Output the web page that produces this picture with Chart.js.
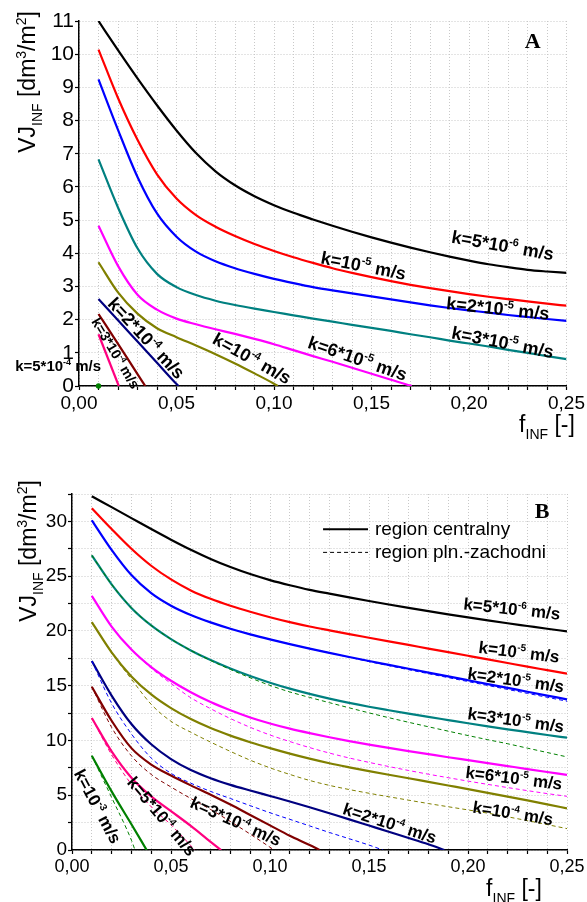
<!DOCTYPE html>
<html>
<head>
<meta charset="utf-8">
<script src="https://cdn.jsdelivr.net/npm/chart.js@4.4.1/dist/chart.umd.min.js"></script>
<style>
  body { margin: 0; background: #fff; }
  .panel { position: absolute; left: 0; width: 587px; }
  #panelA { top: 0; height: 450px; }
  #panelB { top: 460px; height: 442px; }
</style>
</head>
<body>
<div class="panel" id="panelA"><canvas id="chartA" width="587" height="450"></canvas></div>
<div class="panel" id="panelB"><canvas id="chartB" width="587" height="442"></canvas></div>
<script>
// f_INF values shared by the full-length curves
const fFull = [0.01, 0.02, 0.03, 0.04, 0.05, 0.06, 0.07, 0.08, 0.09, 0.10, 0.11, 0.12, 0.13,
               0.14, 0.15, 0.16, 0.17, 0.18, 0.19, 0.20, 0.21, 0.22, 0.23, 0.24, 0.25];

// ---- panel A ----
const aK5e6 = [11.0, 10.12, 9.27, 8.46, 7.7, 7.02, 6.47, 6.05, 5.72, 5.45, 5.22, 5.02, 4.83, 4.65, 4.48, 4.32, 4.17, 4.03, 3.9, 3.78, 3.67, 3.58, 3.5, 3.45, 3.41];
const aK1e5 = [10.14, 8.68, 7.42, 6.38, 5.65, 5.15, 4.8, 4.52, 4.28, 4.07, 3.88, 3.71, 3.55, 3.41, 3.28, 3.16, 3.05, 2.95, 2.86, 2.77, 2.69, 2.62, 2.55, 2.48, 2.42];
const aK2e5 = [9.24, 7.72, 6.3, 5.2, 4.5, 4.05, 3.76, 3.55, 3.38, 3.23, 3.1, 2.98, 2.88, 2.79, 2.7, 2.61, 2.52, 2.43, 2.35, 2.28, 2.21, 2.14, 2.08, 2.02, 1.96];
const aK3e5 = [6.83, 5.38, 4.15, 3.38, 2.98, 2.74, 2.57, 2.44, 2.33, 2.23, 2.13, 2.03, 1.94, 1.84, 1.75, 1.66, 1.56, 1.47, 1.37, 1.28, 1.19, 1.09, 1.0, 0.9, 0.81];
const fA6e5 = [0.01, 0.02, 0.03, 0.04, 0.05, 0.06, 0.07, 0.08, 0.09, 0.10, 0.11, 0.12, 0.13, 0.14, 0.15, 0.16, 0.17, 0.1706];
const aK6e5 = [4.83, 3.62, 2.75, 2.3, 2.03, 1.86, 1.71, 1.57, 1.42, 1.26, 1.08, 0.9, 0.73, 0.55, 0.37, 0.19, 0.01, 0];
const fA1e4 = [0.01, 0.02, 0.03, 0.04, 0.05, 0.06, 0.07, 0.08, 0.09, 0.10, 0.102];
const aK1e4 = [3.73, 2.82, 2.18, 1.74, 1.47, 1.22, 0.96, 0.68, 0.38, 0.07, 0];
const fA2e4 = [0.01, 0.02, 0.03, 0.04, 0.05, 0.051];
const aK2e4 = [2.62, 1.98, 1.34, 0.7, 0.06, 0];
const fA3e4 = [0.01, 0.02, 0.03, 0.034];
const aK3e4 = [2.17, 1.27, 0.36, 0];
const fA5e4 = [0.01, 0.0204];
const aK5e4 = [1.56, 0];
const fA1e3 = [0.01];
const aK1e3 = [0];

// ---- panel B, region centralny (solid) ----
const bK5e6 = [32.3, 31.3, 30.3, 29.3, 28.33, 27.41, 26.57, 25.83, 25.19, 24.64, 24.17, 23.75, 23.4, 23.06, 22.73, 22.41, 22.1, 21.8, 21.51, 21.23, 20.96, 20.7, 20.45, 20.2, 19.96];
const bK1e5 = [31.2, 29.3, 27.5, 25.95, 24.7, 23.7, 22.93, 22.3, 21.75, 21.25, 20.8, 20.4, 20.05, 19.71, 19.38, 19.05, 18.72, 18.39, 18.06, 17.73, 17.4, 17.07, 16.74, 16.42, 16.1];
const bK2e5 = [30.1, 27.4, 25.1, 23.45, 22.3, 21.45, 20.78, 20.2, 19.69, 19.23, 18.8, 18.39, 18.0, 17.62, 17.25, 16.9, 16.55, 16.2, 15.85, 15.5, 15.15, 14.8, 14.45, 14.1, 13.75];
const bK3e5 = [26.9, 24.25, 22.1, 20.5, 19.25, 18.22, 17.34, 16.57, 15.88, 15.27, 14.73, 14.25, 13.82, 13.43, 13.08, 12.76, 12.45, 12.15, 11.86, 11.57, 11.29, 11.02, 10.76, 10.5, 10.25];
const bK6e5 = [23.2, 20.4, 18.3, 16.7, 15.45, 14.4, 13.5, 12.75, 12.1, 11.55, 11.08, 10.67, 10.29, 9.94, 9.62, 9.32, 9.03, 8.75, 8.47, 8.2, 7.93, 7.66, 7.39, 7.12, 6.85];
const bK1e4 = [20.8, 18.05, 15.85, 14.2, 12.95, 11.95, 11.13, 10.44, 9.84, 9.3, 8.8, 8.34, 7.92, 7.55, 7.2, 6.87, 6.55, 6.22, 5.89, 5.56, 5.22, 4.88, 4.53, 4.17, 3.8];
const fB2e4 = [0.01, 0.02, 0.03, 0.04, 0.05, 0.06, 0.07, 0.08, 0.09, 0.10, 0.11, 0.12, 0.13, 0.14, 0.15, 0.16, 0.17, 0.18, 0.188];
const bK2e4 = [17.25, 14.1, 11.5, 9.65, 8.3, 7.3, 6.55, 5.95, 5.43, 4.93, 4.43, 3.9, 3.35, 2.8, 2.23, 1.66, 1.1, 0.52, 0];
const fB3e4 = [0.01, 0.02, 0.03, 0.04, 0.05, 0.06, 0.07, 0.08, 0.09, 0.10, 0.11, 0.12, 0.125];
const bK3e4 = [14.9, 11.8, 9.3, 7.8, 6.8, 5.9, 5.05, 4.15, 3.2, 2.25, 1.3, 0.45, 0];
const fB5e4 = [0.01, 0.02, 0.03, 0.04, 0.05, 0.06, 0.07, 0.0753];
const bK5e4 = [12.05, 9.0, 6.6, 4.9, 3.55, 2.2, 0.75, 0];
const fB1e3 = [0.01, 0.02, 0.03, 0.0377];
const bK1e3 = [8.6, 5.35, 2.35, 0];

// ---- panel B, region pln.-zachodni (dashed) ----
const wK2e5 = [30.1, 27.4, 25.1, 23.45, 22.3, 21.45, 20.78, 20.2, 19.69, 19.23, 18.8, 18.39, 18.0, 17.6, 17.2, 16.83, 16.46, 16.1, 15.74, 15.38, 15.02, 14.66, 14.3, 13.94, 13.58];
const wK3e5 = [26.9, 24.25, 22.1, 20.5, 19.25, 18.22, 17.3, 16.48, 15.72, 15.03, 14.43, 13.93, 13.45, 12.98, 12.52, 12.08, 11.66, 11.25, 10.85, 10.45, 10.07, 9.7, 9.3, 8.9, 8.5];
const wK6e5 = [23.2, 20.4, 18.3, 16.6, 15.2, 13.9, 12.9, 12.0, 11.2, 10.5, 9.9, 9.35, 8.85, 8.4, 8.0, 7.62, 7.26, 6.92, 6.6, 6.29, 5.99, 5.7, 5.42, 5.15, 4.9];
const wK1e4 = [20.8, 18.0, 15.6, 13.3, 11.75, 10.75, 9.85, 9.0, 8.2, 7.5, 6.9, 6.35, 5.9, 5.52, 5.18, 4.86, 4.55, 4.24, 3.95, 3.66, 3.36, 3.03, 2.68, 2.32, 1.95];
const fW2e4 = [0.01, 0.02, 0.03, 0.04, 0.05, 0.06, 0.07, 0.08, 0.09, 0.10, 0.11, 0.12, 0.13, 0.14, 0.15, 0.157];
const wK2e4 = [17.25, 13.4, 10.6, 8.4, 7.0, 6.1, 5.35, 4.7, 4.05, 3.4, 2.8, 2.2, 1.6, 1.03, 0.45, 0];
const fW3e4 = [0.01, 0.02, 0.03, 0.04, 0.05, 0.06, 0.07, 0.08, 0.09, 0.10, 0.102];
const wK3e4 = [14.9, 11.2, 8.6, 6.9, 5.75, 4.7, 3.7, 2.6, 1.45, 0.25, 0];
const fW5e4 = [0.01, 0.02, 0.03, 0.04, 0.05, 0.06, 0.062];
const wK5e4 = [12.05, 8.7, 6.0, 3.95, 2.3, 0.4, 0];
const fW1e3 = [0.01, 0.02, 0.03, 0.0318];
const wK1e3 = [8.6, 4.8, 0.9, 0];

const colors = {
  k5e6: '#000000', k1e5: '#ff0000', k2e5: '#0000ff', k3e5: '#008080', k6e5: '#ff00ff',
  k1e4: '#808000', k2e4: '#000080', k3e4: '#800000', k5e4: '#ff0080', k1e3: '#008000'
};

const SANS = '"Liberation Sans", Arial, sans-serif';
const SERIF = '"Liberation Serif", "Times New Roman", serif';

function curve(fs, vs, color, dashed) {
  return {
    data: fs.map((f, i) => ({ x: f, y: vs[i] })),
    borderColor: color,
    backgroundColor: color,
    borderWidth: dashed ? 1 : 2.2,
    borderDash: dashed ? [4, 3] : [],
    pointRadius: 0,
    cubicInterpolationMode: 'monotone',
    fill: false
  };
}

// text with superscript (1) and subscript (-1) pieces, centred on (x, y)
function richText(ctx, parts, x, y, deg, size, weight, family) {
  ctx.save();
  ctx.translate(x, y);
  ctx.rotate(deg * Math.PI / 180);
  ctx.fillStyle = '#000';
  ctx.textBaseline = 'alphabetic';
  const small = Math.round(size * 0.6);
  const widths = parts.map(([t, m]) => {
    ctx.font = weight + ' ' + (m ? small : size) + 'px ' + family;
    return ctx.measureText(t).width;
  });
  let cx = -widths.reduce((a, b) => a + b, 0) / 2;
  parts.forEach(([t, m], i) => {
    ctx.font = weight + ' ' + (m ? small : size) + 'px ' + family;
    const dy = m === 1 ? -size * 0.42 : (m === -1 ? size * 0.3 : 0);
    ctx.fillText(t, cx, size * 0.36 + dy);
    cx += widths[i];
  });
  ctx.restore();
}

function kText(base, exp) {
  return [['k=' + base, 0], [exp, 1], [' m/s', 0]];
}

const yTitle = [['VJ', 0], ['INF', -1], [' [dm', 0], ['3', 1], ['/m', 0], ['2', 1], [']', 0]];
const xTitle = [['f', 0], ['INF', -1], [' [-]', 0]];

const labelsA = [
  { f: 0.2173, v: 4.25, rot: 10, parts: kText('5*10', '-6'), size: 18 },
  { f: 0.1459, v: 3.64, rot: 11, parts: kText('10', '-5'), size: 18 },
  { f: 0.2148, v: 2.35, rot: 6, parts: kText('2*10', '-5'), size: 18 },
  { f: 0.2173, v: 1.33, rot: 11, parts: kText('3*10', '-5'), size: 18 },
  { f: 0.1429, v: 0.84, rot: 19, parts: kText('6*10', '-5'), size: 18 },
  { f: 0.0888, v: 0.84, rot: 29, parts: kText('10', '-4'), size: 18 },
  { f: 0.0347, v: 1.45, rot: 47, parts: kText('2*10', '-4'), size: 18 },
  { f: 0.0189, v: 0.99, rot: 59, parts: kText('3*10', '-4'), size: 14 },
  { f: -0.0107, v: 0.6, rot: 0, parts: kText('5*10', '-4'), size: 15 }
];

const labelsB = [
  { f: 0.2222, v: 22.05, rot: 6, parts: kText('5*10', '-6'), size: 17 },
  { f: 0.2258, v: 18.1, rot: 7, parts: kText('10', '-5'), size: 17 },
  { f: 0.2242, v: 15.55, rot: 8, parts: kText('2*10', '-5'), size: 17 },
  { f: 0.2242, v: 11.9, rot: 8, parts: kText('3*10', '-5'), size: 17 },
  { f: 0.2232, v: 6.6, rot: 7, parts: kText('6*10', '-5'), size: 17 },
  { f: 0.2227, v: 3.4, rot: 9, parts: kText('10', '-4'), size: 17 },
  { f: 0.1606, v: 2.47, rot: 18, parts: kText('2*10', '-4'), size: 17 },
  { f: 0.0828, v: 2.65, rot: 24, parts: kText('3*10', '-4'), size: 17 },
  { f: 0.0455, v: 3.1, rot: 50, parts: kText('5*10', '-4'), size: 17 },
  { f: 0.0131, v: 4.0, rot: 62, parts: kText('10', '-3'), size: 17 }
];

function fLabel(value) {
  const h = Math.round(value * 100);
  return h % 5 === 0 ? value.toFixed(2).replace('.', ',') : '';
}

function axes(yMax, yStep, yLabel, yWidth, xHeight, xTickSize, yTickSize) {
  const grid = {
    color: '#c8c8c8', lineWidth: 1, tickColor: '#000', tickLength: 4, tickWidth: 1.2
  };
  const border = { display: true, color: '#000', width: 1.5, dash: [1, 2] };
  return {
    x: {
      type: 'linear', min: 0, max: 0.25,
      grid: grid, border: border,
      afterFit: s => { s.height = xHeight; },
      ticks: {
        stepSize: 0.01, autoSkip: false, maxRotation: 0, minRotation: 0, padding: 2,
        color: '#000', font: { size: xTickSize, family: SANS },
        callback: fLabel
      }
    },
    y: {
      min: 0, max: yMax,
      grid: grid, border: border,
      afterFit: s => { s.width = yWidth; },
      ticks: {
        stepSize: yStep, autoSkip: false, padding: 1,
        color: '#000', font: { size: yTickSize, family: SANS },
        callback: yLabel
      }
    }
  };
}

function textPlugin(labels, extra) {
  return {
    id: 'annotations',
    afterDraw(chart) {
      const { ctx, scales: { x, y } } = chart;
      labels.forEach(l => {
        richText(ctx, l.parts, x.getPixelForValue(l.f), y.getPixelForValue(l.v), l.rot, l.size, 'bold', SANS);
      });
      extra(chart, ctx, x, y);
    }
  };
}

// panel A
new Chart(document.getElementById('chartA'), {
  type: 'line',
  data: {
    datasets: [
      curve(fFull, aK5e6, colors.k5e6),
      curve(fFull, aK1e5, colors.k1e5),
      curve(fFull, aK2e5, colors.k2e5),
      curve(fFull, aK3e5, colors.k3e5),
      curve(fA6e5, aK6e5, colors.k6e5),
      curve(fA1e4, aK1e4, colors.k1e4),
      curve(fA2e4, aK2e4, colors.k2e4),
      curve(fA3e4, aK3e4, colors.k3e4),
      curve(fA5e4, aK5e4, colors.k5e4),
      Object.assign(curve(fA1e3, aK1e3, colors.k1e3), { pointRadius: 1.6, showLine: false, clip: false })
    ]
  },
  options: {
    responsive: false,
    animation: false,
    events: [],
    layout: { padding: { top: 21, right: 18, left: 0, bottom: 0 }, autoPadding: false },
    plugins: { legend: { display: false }, tooltip: { enabled: false } },
    scales: axes(11, 1, v => String(v), 79, 64, 19, 21)
  },
  plugins: [textPlugin(labelsA, (chart, ctx, x, y) => {
    ctx.save();
    ctx.fillStyle = '#000';
    ctx.font = 'bold 22px ' + SERIF;
    ctx.textAlign = 'center';
    ctx.textBaseline = 'middle';
    ctx.fillText('A', x.getPixelForValue(0.2327), y.getPixelForValue(10.36));
    ctx.restore();
    richText(ctx, yTitle, 27, 82, -90, 23, 'normal', SANS);
    richText(ctx, xTitle, 547, 424, 0, 23, 'normal', SANS);
  })]
});

// panel B
new Chart(document.getElementById('chartB'), {
  type: 'line',
  data: {
    datasets: [
      curve(fFull, wK2e5, colors.k2e5, true),
      curve(fFull, wK3e5, colors.k1e3, true),
      curve(fFull, wK6e5, colors.k6e5, true),
      curve(fFull, wK1e4, colors.k1e4, true),
      curve(fW2e4, wK2e4, colors.k2e5, true),
      curve(fW3e4, wK3e4, colors.k3e4, true),
      curve(fW5e4, wK5e4, colors.k5e4, true),
      curve(fW1e3, wK1e3, colors.k1e3, true),
      curve(fFull, bK5e6, colors.k5e6),
      curve(fFull, bK1e5, colors.k1e5),
      curve(fFull, bK2e5, colors.k2e5),
      curve(fFull, bK3e5, colors.k3e5),
      curve(fFull, bK6e5, colors.k6e5),
      curve(fFull, bK1e4, colors.k1e4),
      curve(fB2e4, bK2e4, colors.k2e4),
      curve(fB3e4, bK3e4, colors.k3e4),
      curve(fB5e4, bK5e4, colors.k5e4),
      curve(fB1e3, bK1e3, colors.k1e3)
    ]
  },
  options: {
    responsive: false,
    animation: false,
    events: [],
    layout: { padding: { top: 34, right: 20, left: 0, bottom: 0 }, autoPadding: false },
    plugins: { legend: { display: false }, tooltip: { enabled: false } },
    scales: axes(32.5, 2.5, v => (v % 5 === 0 ? String(v) : ''), 72, 52, 18, 19)
  },
  plugins: [textPlugin(labelsB, (chart, ctx, x, y) => {
    ctx.save();
    ctx.fillStyle = '#000';
    ctx.font = 'bold 22px ' + SERIF;
    ctx.textAlign = 'center';
    ctx.textBaseline = 'middle';
    ctx.fillText('B', x.getPixelForValue(0.2374), y.getPixelForValue(30.83));
    // legend: solid = region centralny, dashed = region pln.-zachodni
    const x1 = x.getPixelForValue(0.1268), x2 = x.getPixelForValue(0.1495);
    const ySolid = y.getPixelForValue(29.28), yDash = y.getPixelForValue(27.17);
    ctx.strokeStyle = '#000';
    ctx.lineWidth = 2.2;
    ctx.beginPath(); ctx.moveTo(x1, ySolid); ctx.lineTo(x2, ySolid); ctx.stroke();
    ctx.lineWidth = 1;
    ctx.setLineDash([4, 3]);
    ctx.beginPath(); ctx.moveTo(x1, yDash); ctx.lineTo(x2, yDash); ctx.stroke();
    ctx.setLineDash([]);
    ctx.font = '19px ' + SANS;
    ctx.textAlign = 'left';
    ctx.fillText('region centralny', x.getPixelForValue(0.153), ySolid);
    ctx.fillText('region pln.-zachodni', x.getPixelForValue(0.153), yDash);
    ctx.restore();
    richText(ctx, yTitle, 28, 91, -90, 23, 'normal', SANS);
    richText(ctx, xTitle, 514, 428, 0, 23, 'normal', SANS);
  })]
});
</script>
</body>
</html>
